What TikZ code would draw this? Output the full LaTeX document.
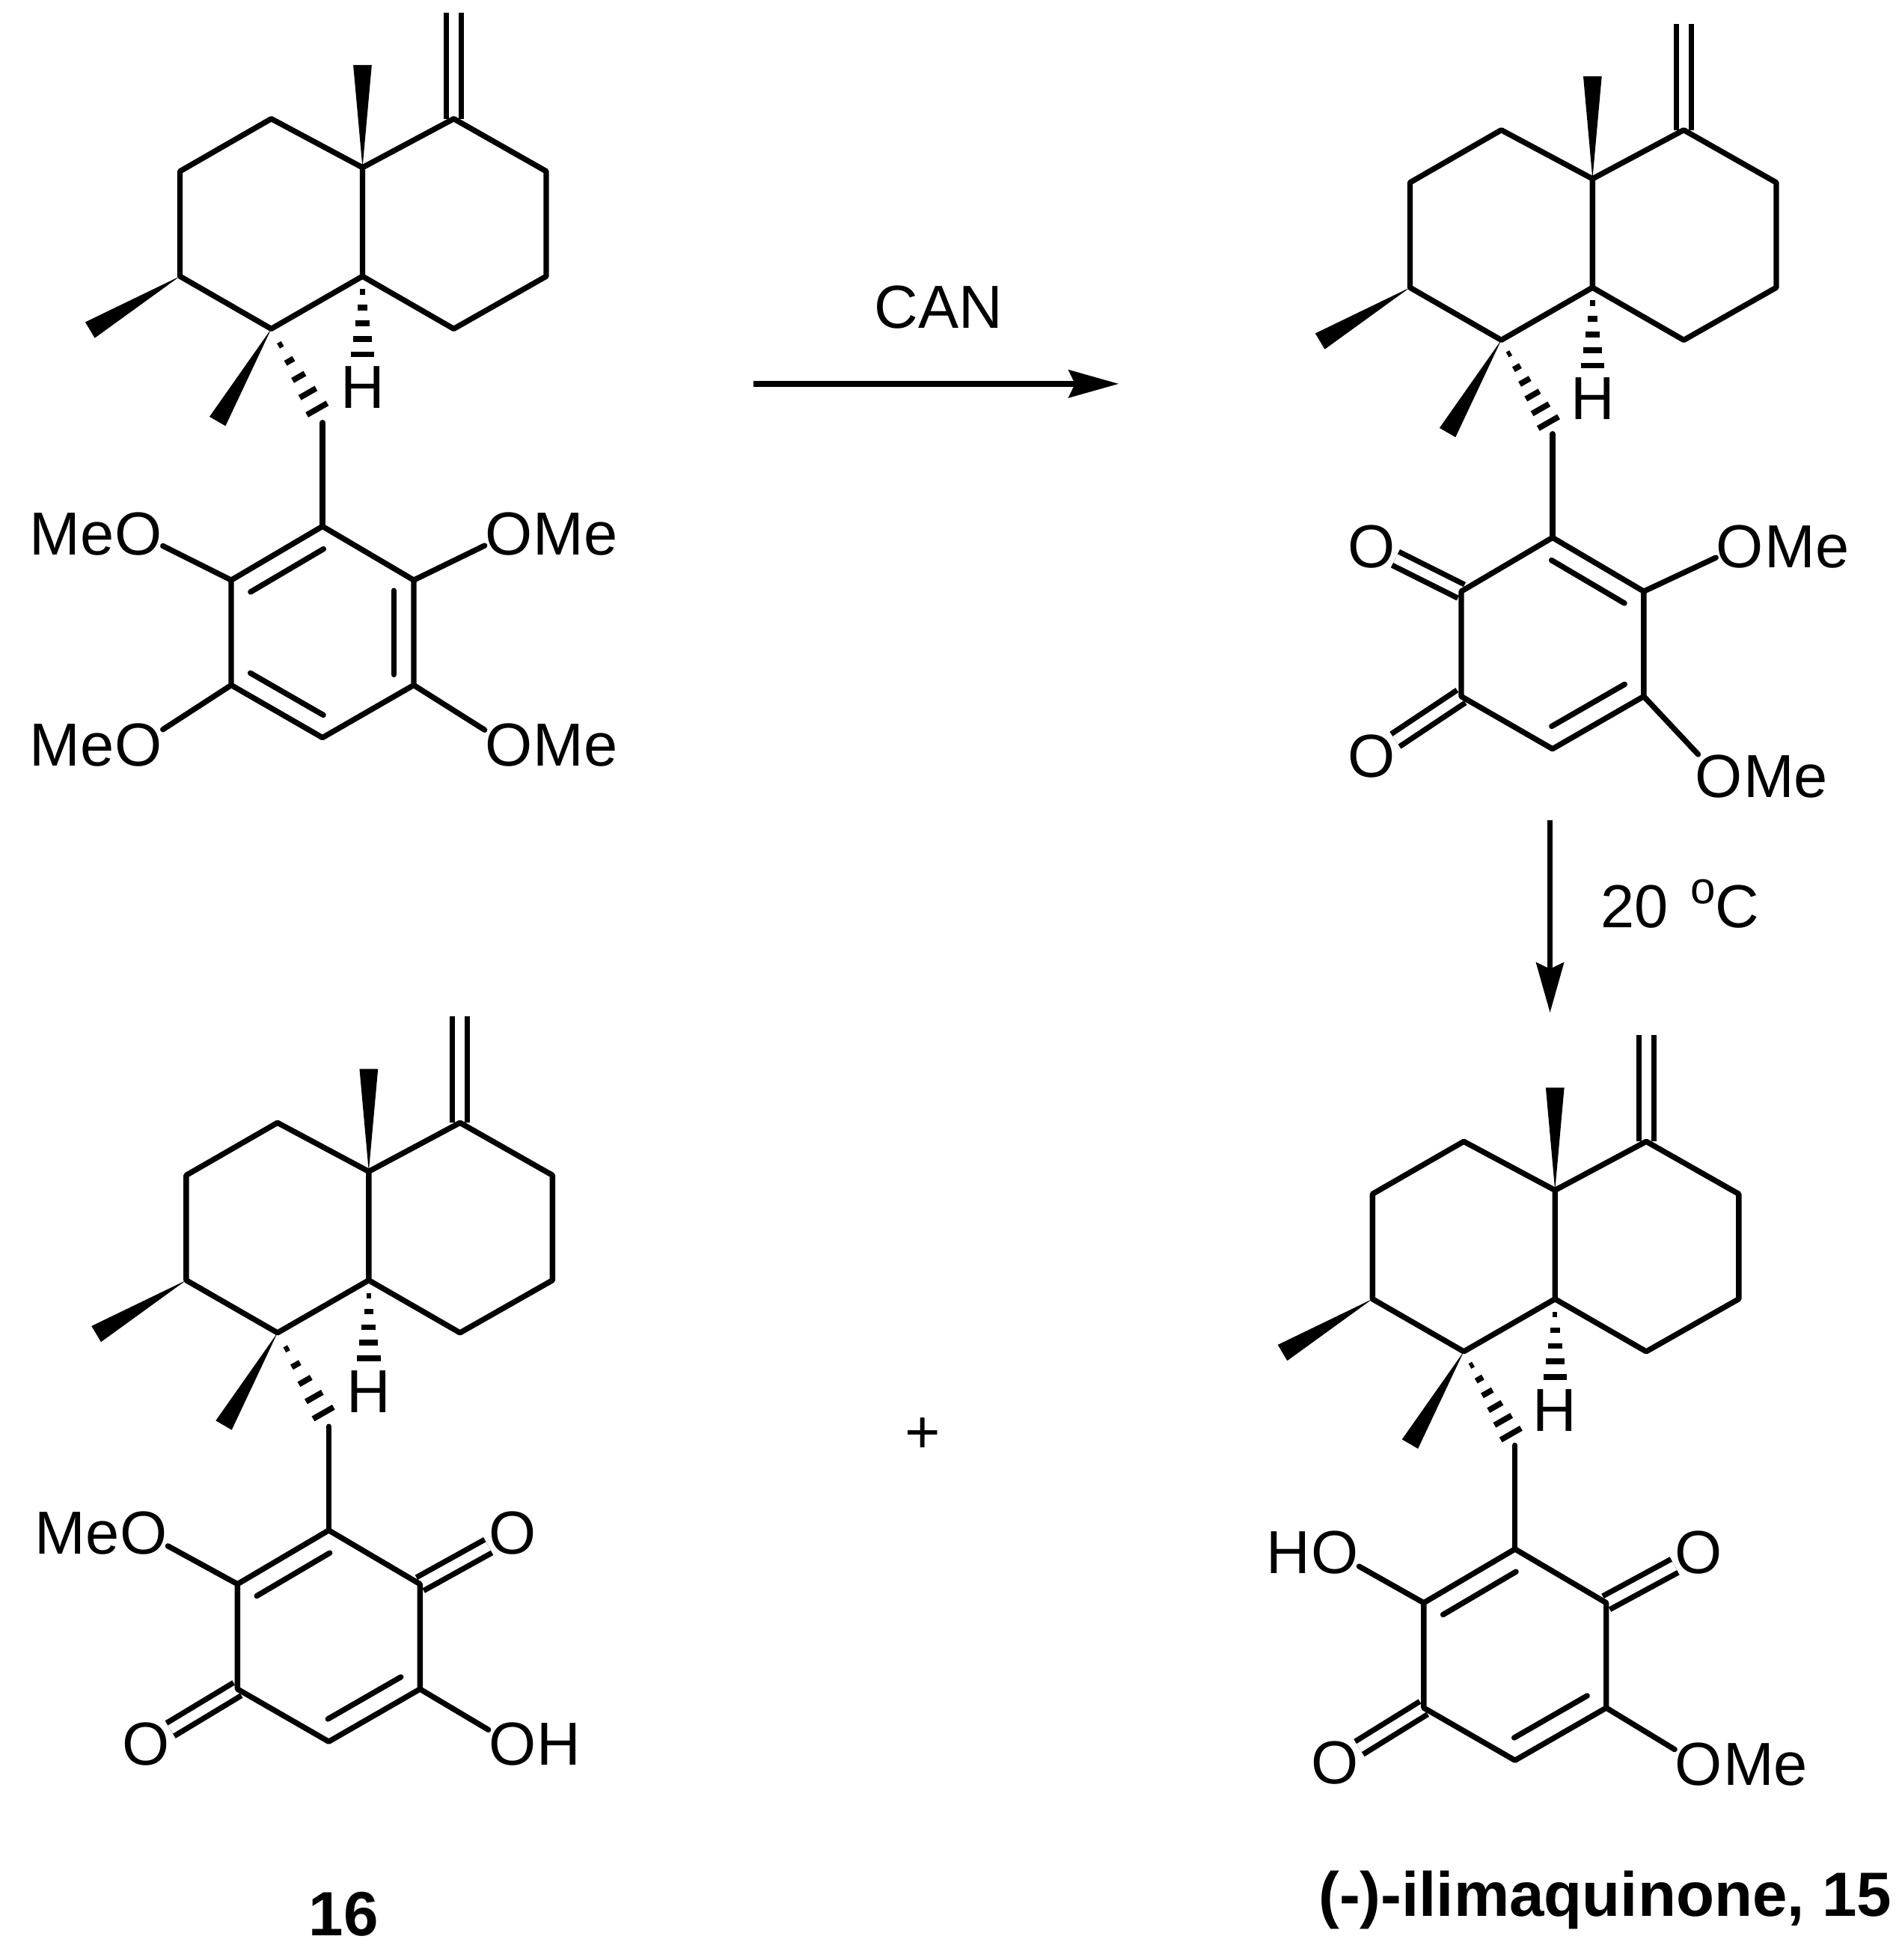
\documentclass[tikz,border=0pt]{standalone}
\usepackage{fontspec}
\setmainfont{Liberation Sans}
\usetikzlibrary{arrows.meta,calc,positioning}

\tikzset{
  bond/.style={line width=2.2pt,line join=round,line cap=round},
  dblbond/.style={line width=2.2pt,double,double distance=3.8pt},
  atom/.style={inner sep=0pt,font=\fontsize{24.3}{28}\selectfont},
  rxnlabel/.style={inner sep=0pt,font=\fontsize{24.3}{28}\selectfont},
  cmpdlabel/.style={inner sep=0pt,font=\fontsize{25}{28}\selectfont\bfseries},
  rxnarrow/.style={line width=2.2pt,-{Stealth[length=20pt,width=11pt,inset=2.5pt]}},
}

\newcommand{\wedgebond}[2]{
  \fill (#1) -- ($(#2)!3.7pt!90:(#1)$) -- ($(#2)!3.7pt!-90:(#1)$) -- cycle;
}
\newcommand{\hashbond}[3]{
  \foreach \n in {1,...,#3}{
    \pgfmathsetmacro{\hfrac}{\n/(#3+1)}
    \pgfmathsetmacro{\hwid}{4.7*\n/#3}
    \draw[line width=2.3pt] ($(#1)!\hfrac!(#2)!\hwid pt!90:(#2)$) -- ($(#1)!\hfrac!(#2)!\hwid pt!-90:(#2)$);
  }
}
\newcommand{\ringdouble}[2]{
  \draw[bond] ($(#1)!.1!(#2)!8pt!90:(#2)$) -- ($(#2)!.1!(#1)!8pt!-90:(#1)$);
}
\newcommand{\skeleton}[1]{
  \coordinate (a) at (290,134);
  \coordinate (b) at (217,95);
  \coordinate (c) at (144,137);
  \coordinate (d) at (144,221);
  \coordinate (e) at (217,263);
  \coordinate (f) at (290,221);
  \coordinate (g) at (363,95);
  \coordinate (h) at (437,137);
  \coordinate (i) at (437,221);
  \coordinate (j) at (363,263);
  \coordinate (ch2) at (363,10);
  \coordinate (me1) at (290,52);
  \coordinate (me2) at (72,264);
  \coordinate (me3) at (174,337);
  \coordinate (hh) at (290,296);
  \coordinate (hp) at (261,340);
  \coordinate (ch) at (258,338);
  \coordinate (top) at (258,421);
  \coordinate (ul) at (185,464);
  \coordinate (ll) at (185,548);
  \coordinate (bot) at (258,590);
  \coordinate (lr) at (331,548);
  \coordinate (ur) at (331,464);
  \node [atom](H) at (290,310){H};
  \draw[dblbond] (g) -- (ch2);
  \draw[bond] (a) -- (b) -- (c) -- (d) -- (e) -- (f) -- cycle;
  \draw[bond] (a) -- (g) -- (h) -- (i) -- (j) -- (f);
  \draw[bond] (ch) -- (top);
  \wedgebond{a}{me1}
  \wedgebond{d}{me2}
  \wedgebond{e}{me3}
  \hashbond{f}{hh}{5}
  \hashbond{e}{hp}{#1}
}
\newcommand{\ringbonds}{
  \draw[bond] (top) -- (ul) -- (ll) -- (bot) -- (lr) -- (ur) -- cycle;
}

\begin{document}
\begin{tikzpicture}[x=.5pt,y=-.5pt]
  \useasboundingbox (0,0) rectangle (1521.6,1567.7);

  \begin{scope}[name prefix=tetra-]
    \skeleton{5}
    \node [atom](o1) at (111,427){O};
    \node [atom](me4) [base left=0pt of o1]{Me};
    \node [atom](o2) at (111,596){O};
    \node [atom](me5) [base left=0pt of o2]{Me};
    \node [atom](o3) at (407,427){O};
    \node [atom](me6) [base right=0pt of o3]{Me};
    \node [atom](o4) at (407,596){O};
    \node [atom](me7) [base right=0pt of o4]{Me};
    \ringbonds
    \ringdouble{top}{ul}
    \ringdouble{ll}{bot}
    \ringdouble{lr}{ur}
    \path[bond]
      (ul) edge (o1)
      (ll) edge (o2)
      (ur) edge (o3)
      (lr) edge (o4)
    ;
  \end{scope}

  \begin{scope}[name prefix=ortho-,shift={(984,9)}]
    \skeleton{6}
    \node [atom](o1) at (113,428){O};
    \node [atom](o2) at (113,596){O};
    \node [atom](o3) at (408,428){O};
    \node [atom](me6) [base right=0pt of o3]{Me};
    \node [atom](o4) at (391,612){O};
    \node [atom](me7) [base right=0pt of o4]{Me};
    \draw[dblbond] (ul) -- (o1);
    \draw[dblbond] (ll) -- (o2);
    \ringbonds
    \ringdouble{bot}{lr}
    \ringdouble{ur}{top}
    \path[bond]
      (ur) edge (o3)
      (lr) edge (o4)
    ;
  \end{scope}

  \begin{scope}[name prefix=iso-,shift={(5,803)}]
    \skeleton{5}
    \node [atom](o1) at (110,423){O};
    \node [atom](me4) [base left=0pt of o1]{Me};
    \node [atom](o2) at (112,592){O};
    \node [atom](o3) at (405,423){O};
    \node [atom](o4) at (405,592){O};
    \node [atom](h4) [base right=0pt of o4]{H};
    \draw[dblbond] (ur) -- (o3);
    \draw[dblbond] (ll) -- (o2);
    \ringbonds
    \ringdouble{top}{ul}
    \ringdouble{bot}{lr}
    \path[bond]
      (ul) edge (o1)
      (lr) edge (o4)
    ;
  \end{scope}

  \begin{scope}[name prefix=ilima-,shift={(954,818)}]
    \skeleton{6}
    \node [atom](o1) at (114,424){O};
    \node [atom](h4) [base left=0pt of o1]{H};
    \node [atom](o2) at (114,592){O};
    \node [atom](o3) at (405,424){O};
    \node [atom](o4) at (405,593){O};
    \node [atom](me7) [base right=0pt of o4]{Me};
    \draw[dblbond] (ur) -- (o3);
    \draw[dblbond] (ll) -- (o2);
    \ringbonds
    \ringdouble{top}{ul}
    \ringdouble{bot}{lr}
    \path[bond]
      (ul) edge (o1)
      (lr) edge (o4)
    ;
  \end{scope}

  \coordinate (can1) at (603,307);
  \coordinate (can2) at (895,307);
  \coordinate (heat1) at (1240,656);
  \coordinate (heat2) at (1240,810);
  \draw[rxnarrow] (can1) -- (can2);
  \draw[rxnarrow] (heat1) -- (heat2);

  \node [rxnlabel](can) at (751,246){CAN};
  \node [rxnlabel](temp) at (1344,723){20 \hspace{2pt}\raisebox{.75ex}{\fontsize{18}{20}\selectfont o}C};
  \node [rxnlabel](plus) at (738,1148){+};
  \node [cmpdlabel](c16) at (275,1531){16};
  \node [cmpdlabel](c15) at (1284,1520){(-)-ilimaquinone, 15};
\end{tikzpicture}
\end{document}
